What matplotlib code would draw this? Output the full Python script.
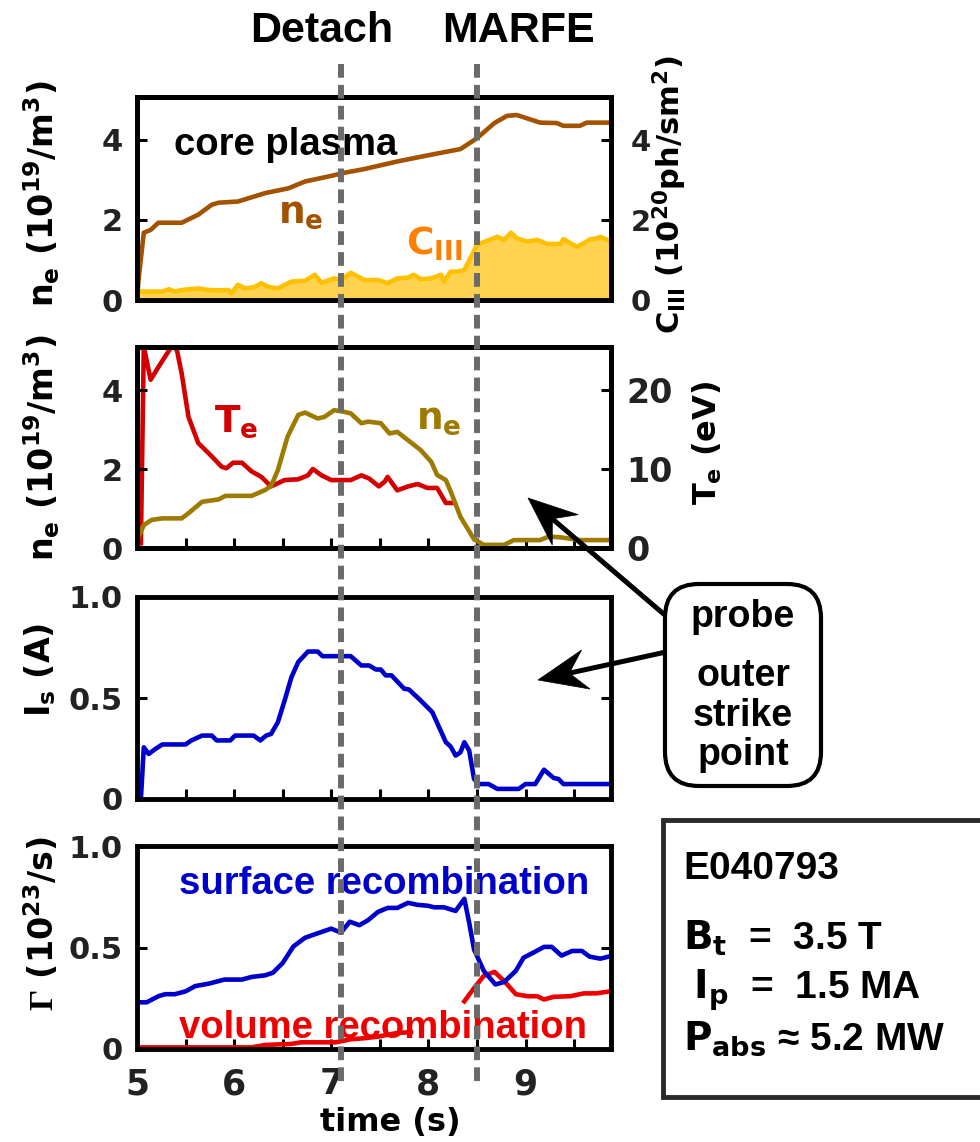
import numpy as np
import matplotlib
matplotlib.use("Agg")
import matplotlib.pyplot as plt
import matplotlib.transforms as mtransforms
from matplotlib.lines import Line2D
from matplotlib.patches import FancyBboxPatch, Rectangle, Polygon

# ---------------------------------------------------------------- data
# core plasma line-averaged density (1e19 m^-3)
t_core = [5.00, 5.02, 5.07, 5.14, 5.22, 5.46, 5.63, 5.77, 5.84, 6.04, 6.32, 6.56,
          6.73, 7.00, 7.14, 7.34, 7.68, 8.03, 8.33, 8.50, 8.68, 8.81, 8.91, 9.15,
          9.32, 9.39, 9.56, 9.63, 9.88]
ne_core = [0.05, 0.60, 1.68, 1.75, 1.93, 1.93, 2.13, 2.38, 2.43, 2.46, 2.67, 2.79,
           2.96, 3.10, 3.18, 3.27, 3.46, 3.63, 3.77, 4.04, 4.42, 4.60, 4.62, 4.43,
           4.42, 4.35, 4.35, 4.43, 4.43]

# C III emission (1e20 ph/s m^2)
t_c3 = [5.00, 5.26, 5.33, 5.39, 5.46, 5.63, 5.74, 5.84, 5.94, 5.97, 6.04, 6.11,
        6.21, 6.28, 6.35, 6.45, 6.59, 6.73, 6.83, 6.90, 7.03, 7.10, 7.20, 7.34,
        7.48, 7.58, 7.68, 7.79, 7.85, 7.92, 8.03, 8.13, 8.16, 8.23, 8.30, 8.37,
        8.44, 8.50, 8.71, 8.78, 8.85, 8.91, 9.02, 9.12, 9.22, 9.36, 9.39, 9.46,
        9.53, 9.60, 9.67, 9.74, 9.77, 9.88]
c3 = [0.21, 0.21, 0.27, 0.21, 0.25, 0.29, 0.25, 0.24, 0.25, 0.17, 0.38, 0.29,
      0.32, 0.42, 0.33, 0.29, 0.46, 0.48, 0.63, 0.43, 0.54, 0.50, 0.68, 0.50,
      0.50, 0.42, 0.54, 0.56, 0.63, 0.52, 0.54, 0.63, 0.46, 0.71, 0.71, 0.75,
      1.08, 1.38, 1.58, 1.50, 1.68, 1.54, 1.46, 1.50, 1.40, 1.40, 1.52, 1.42,
      1.33, 1.42, 1.52, 1.54, 1.58, 1.46]

# divertor probe density (1e19 m^-3)
t_ne_div = [5.00, 5.07, 5.15, 5.26, 5.46, 5.53, 5.67, 5.84, 5.91, 6.18, 6.32, 6.38,
            6.45, 6.55, 6.66, 6.73, 6.86, 6.93, 7.03, 7.13, 7.20, 7.31, 7.38, 7.51,
            7.60, 7.68, 7.79, 7.92, 8.03, 8.09, 8.18, 8.23, 8.33, 8.47, 8.57, 8.78,
            8.88, 9.15, 9.24, 9.36, 9.56, 9.88]
ne_div = [0.20, 0.58, 0.71, 0.75, 0.75, 0.88, 1.17, 1.23, 1.32, 1.32, 1.47, 1.57,
          1.97, 2.82, 3.37, 3.43, 3.28, 3.32, 3.49, 3.45, 3.41, 3.16, 3.20, 3.16,
          2.90, 2.94, 2.73, 2.48, 2.18, 1.85, 1.72, 1.43, 0.79, 0.22, 0.08, 0.08,
          0.20, 0.20, 0.29, 0.27, 0.20, 0.20]

# divertor probe electron temperature (eV)
t_te = [5.04, 5.07, 5.14, 5.22, 5.36, 5.41, 5.46, 5.53, 5.63, 5.77, 5.87, 5.92,
        5.99, 6.08, 6.18, 6.28, 6.38, 6.52, 6.66, 6.76, 6.81, 6.90, 7.00, 7.20,
        7.31, 7.39, 7.49, 7.55, 7.58, 7.68, 7.79, 7.89, 7.99, 8.09, 8.18, 8.25]
te = [0.6, 25.5, 21.3, 22.9, 25.6, 25.1, 22.1, 16.6, 13.3, 11.6, 10.3, 10.1,
      10.8, 10.8, 9.7, 9.0, 7.8, 8.6, 8.7, 9.2, 10.0, 9.2, 8.6, 8.6,
      9.2, 8.8, 7.8, 8.4, 9.0, 7.3, 7.8, 8.1, 7.6, 7.6, 5.7, 5.7]

# ion saturation current at the outer strike point (A)
t_is = [5.04, 5.07, 5.12, 5.19, 5.26, 5.50, 5.56, 5.67, 5.77, 5.82, 5.96, 6.01,
        6.20, 6.27, 6.33, 6.38, 6.45, 6.52, 6.59, 6.66, 6.76, 6.86, 6.91, 7.20,
        7.31, 7.39, 7.46, 7.51, 7.56, 7.62, 7.75, 7.80, 7.92, 8.04, 8.18, 8.23,
        8.28, 8.33, 8.37, 8.42, 8.47, 8.52, 8.62, 8.71, 8.93, 9.00, 9.10, 9.19,
        9.29, 9.34, 9.39, 9.88]
i_sat = [0.00, 0.256, 0.223, 0.248, 0.27, 0.27, 0.29, 0.314, 0.314, 0.29, 0.29, 0.314,
         0.314, 0.29, 0.314, 0.322, 0.38, 0.488, 0.603, 0.678, 0.73, 0.73, 0.707, 0.707,
         0.661, 0.661, 0.641, 0.641, 0.612, 0.612, 0.546, 0.542, 0.488, 0.43, 0.281, 0.259,
         0.215, 0.231, 0.281, 0.24, 0.099, 0.074, 0.074, 0.05, 0.05, 0.074, 0.074, 0.145,
         0.104, 0.099, 0.074, 0.074]

# particle recombination rates (1e23 /s)
t_surf = [5.00, 5.10, 5.22, 5.29, 5.39, 5.50, 5.60, 5.74, 5.90, 6.08, 6.18, 6.32,
          6.40, 6.50, 6.61, 6.73, 6.83, 7.00, 7.10, 7.19, 7.29, 7.38, 7.48, 7.58,
          7.68, 7.79, 7.89, 7.99, 8.06, 8.16, 8.28, 8.37, 8.42, 8.47, 8.57, 8.69,
          8.78, 8.90, 8.98, 9.09, 9.19, 9.27, 9.37, 9.48, 9.58, 9.66, 9.77, 9.88]
surf_rec = [0.23, 0.23, 0.26, 0.27, 0.27, 0.284, 0.31, 0.322, 0.342, 0.342, 0.355, 0.363,
            0.376, 0.424, 0.505, 0.548, 0.565, 0.593, 0.573, 0.627, 0.61, 0.635, 0.675, 0.695,
            0.695, 0.72, 0.71, 0.706, 0.698, 0.698, 0.68, 0.74, 0.622, 0.49, 0.385, 0.318,
            0.33, 0.385, 0.45, 0.477, 0.503, 0.503, 0.46, 0.483, 0.483, 0.455, 0.445, 0.458]

t_vol = [5.00, 6.18, 6.32, 6.59, 6.69, 7.05, 7.20, 7.34, 7.48, 7.68, 7.82, 8.10,
         8.37, 8.47, 8.57, 8.68, 8.78, 8.90, 9.02, 9.12, 9.19, 9.29, 9.46, 9.60,
         9.73, 9.88]
vol_rec = [0.008, 0.008, 0.02, 0.025, 0.033, 0.033, 0.048, 0.053, 0.061, 0.079, 0.083, np.nan,
           0.235, 0.30, 0.36, 0.38, 0.335, 0.27, 0.26, 0.26, 0.244, 0.257, 0.26, 0.274,
           0.274, 0.285]

# event times and labels
event_times = [7.1, 8.5]
event_labels = ["Detach", "MARFE"]

x_major = [5, 6, 7, 8, 9]
x_minor = [5.5, 6.5, 7.5, 8.5, 9.5]

shot_lines = ["E040793", r"$B_t$  =  3.5 T", r" $I_p$  =  1.5 MA", r"$P_{abs}$ ≈ 5.2 MW"]
probe_lines = ["probe", "outer", "strike", "point"]

# ---------------------------------------------------------------- style
plt.rcParams.update({
    "font.family": ["DejaVu Sans"],
    "font.weight": "bold",
    "mathtext.fontset": "custom",
    "mathtext.rm": "DejaVu Sans:bold",
    "mathtext.it": "DejaVu Sans:bold",
    "mathtext.bf": "DejaVu Sans:bold",
    "mathtext.sf": "Liberation Serif",
    "axes.linewidth": 3.5,
})
ANN = ["Liberation Sans", "DejaVu Sans"]
LW = 3.3

W_PX, H_PX, DPI = 980, 1142, 100
fig = plt.figure(figsize=(W_PX / DPI, H_PX / DPI), dpi=DPI)

X0, X1 = 5.0, 9.88
TICK_COLOR = "#222222"


def rect(top, bottom, left=137, right=611):
    return [left / W_PX, 1 - bottom / H_PX, (right - left) / W_PX, (bottom - top) / H_PX]


def fx(px):
    return px / W_PX


def fy(py):
    return 1 - py / H_PX


def base_axes(r, yticks, ylabels, ylim, bottom_labels=False, right_ticks=None):
    ax = fig.add_axes(r)
    ax.set_xlim(X0, X1)
    ax.set_ylim(*ylim)
    ax.set_xticks(x_major)
    ax.set_xticks(x_minor, minor=True)
    ax.set_yticks(yticks, labels=ylabels)
    ax.tick_params(axis="both", which="both", direction="in", length=7, width=2.2,
                   top=False, right=False, colors="black", labelcolor=TICK_COLOR)
    ax.tick_params(axis="y", labelsize=22, pad=10)
    ax.tick_params(axis="x", labelsize=25, pad=13, labelbottom=bottom_labels)
    if right_ticks is not None:
        ax.tick_params(axis="y", right=True, labelright=False)
    for s in ax.spines.values():
        s.set_linewidth(3.5)
    return ax


# panel 1: core density and C III
ax1 = base_axes(rect(97, 300), [0, 2, 4], ["0", "2", "4"], (0, 5.07))
ax1.plot(t_core, ne_core, color="#A35200", lw=LW, zorder=3)
ax1r = ax1.twinx()
ax1r.set_ylim(0, 5.07)
ax1r.fill_between(t_c3, 0, c3, color="#FFD24F", lw=0, zorder=1)
ax1r.plot(t_c3, c3, color="#FFC000", lw=LW, zorder=2)
ax1r.set_yticks([0, 2, 4], labels=["0", "2", "4"])
ax1r.tick_params(axis="y", direction="in", length=7, width=2.2, labelsize=21, pad=14,
                 labelcolor=TICK_COLOR)
ax1.text(5.38, 3.63, "core plasma", family=ANN, fontsize=27.5, color="black")
ax1.text(6.45, 1.92, r"$n_e$", fontsize=27, color="#A35200")
ax1.text(7.77, 1.12, r"$C_{III}$", fontsize=27, color="#FF8000")

# panel 2: divertor probe density and temperature
ax2 = base_axes(rect(347, 548), [0, 2, 4], ["0", "2", "4"], (0, 5.09))
ax2r = ax2.twinx()
ax2r.set_ylim(0, 5.09 * 5)
ax2r.plot(t_te, te, color="#D40000", lw=LW)
ax2r.set_yticks([0, 10, 20], labels=["0", "10", "20"])
ax2r.tick_params(axis="y", direction="in", length=7, width=2.2, labelsize=24, pad=11,
                 labelcolor=TICK_COLOR)
ax2.set_zorder(ax2r.get_zorder() + 1)
ax2.patch.set_visible(False)
ax2.plot(t_ne_div, ne_div, color="#9E7A00", lw=LW)
ax2.text(5.79, 2.94, r"$T_e$", fontsize=27, color="#D40000")
ax2.text(7.87, 3.03, r"$n_e$", fontsize=27, color="#9E7A00")

# panel 3: ion saturation current
ax3 = base_axes(rect(597, 799), [0, 0.5, 1.0], ["0", "0.5", "1.0"], (0, 1.0), right_ticks=True)
ax3.plot(t_is, i_sat, color="#0000CC", lw=LW)

# panel 4: recombination
ax4 = base_axes(rect(846, 1049), [0, 0.5, 1.0], ["0", "0.5", "1.0"], (0, 1.0),
                bottom_labels=True, right_ticks=True)
ax4.plot(t_vol, vol_rec, color="#EE0000", lw=LW)
ax4.plot(t_surf, surf_rec, color="#0000CC", lw=LW)
ax4.text(5.43, 0.762, "surface recombination", family=ANN, fontsize=27.5, color="#0000CC")
ax4.text(5.43, 0.053, "volume recombination", family=ANN, fontsize=27.5, color="#EE0000")

# axis titles
fig.text(fx(42), fy(194), r"$n_e$ (10$^{19}$/m$^3$)", rotation=90, ha="center", va="center", fontsize=24)
fig.text(fx(42), fy(448), r"$n_e$ (10$^{19}$/m$^3$)", rotation=90, ha="center", va="center", fontsize=24)
fig.text(fx(40), fy(670), r"$I_s$ (A)", rotation=90, ha="center", va="center", fontsize=24)
fig.text(fx(42), fy(924), r"$\mathsf{\Gamma}$ (10$^{23}$/s)", rotation=90, ha="center", va="center", fontsize=24)
fig.text(fx(670), fy(195), r"$C_{III}$ (10$^{20}$ph/sm$^2$)", rotation=90, ha="center", va="center", fontsize=22)
fig.text(fx(707), fy(443), r"$T_e$ (eV)", rotation=90, ha="center", va="center", fontsize=23)
fig.text(fx(390), fy(1131), "time (s)", ha="center", va="baseline", fontsize=23)

# event markers spanning all panels
trans = mtransforms.blended_transform_factory(ax4.transData, fig.transFigure)
for tv in event_times:
    fig.add_artist(Line2D([tv, tv], [fy(64), fy(1085)], transform=trans, color="#6B6B6B",
                          lw=4.3, linestyle=(0, (2.3, 1.2)), zorder=20))
fig.text(fx(322), fy(42), event_labels[0], family=ANN, fontsize=31, ha="center", va="baseline")
fig.text(fx(518), fy(42), event_labels[1], family=ANN, fontsize=31, ha="center", va="baseline")

# annotation boxes (coordinates in inches from the bottom-left corner)
inch = fig.dpi_scale_trans


def pin(x, y):
    return (x / DPI, (H_PX - y) / DPI)


x0, y0 = pin(665, 786)
probe_box = FancyBboxPatch((x0, y0), (821 - 665) / DPI, (786 - 584) / DPI,
                           boxstyle="round,pad=0,rounding_size=0.34", transform=inch,
                           facecolor="white", edgecolor="black", lw=3.0, zorder=30)
fig.add_artist(probe_box)
for txt, yb in zip(probe_lines, [627, 686, 726, 765]):
    fig.text(fx(743), fy(yb), txt, family=ANN, fontsize=27, ha="center", va="baseline", zorder=31)

x0, y0 = pin(663, 1097)
shot_box = Rectangle((x0, y0), (1000 - 663) / DPI, (1097 - 820) / DPI, transform=inch,
                     facecolor="white", edgecolor="#2a2a2a", lw=3.5, zorder=30)
fig.add_artist(shot_box)
for txt, yb in zip(shot_lines, [879, 950, 999, 1050]):
    fig.text(fx(683), fy(yb), txt, family=ANN, fontsize=28, ha="left", va="baseline", zorder=31)


def stealth_arrow(tail, tip, head_len=49, head_w=40, notch=17, shaft=5):
    tx, ty = pin(*tail)
    px_, py_ = pin(*tip)
    d = np.array([px_ - tx, py_ - ty])
    u = d / np.hypot(*d)
    n = np.array([-u[1], u[0]])
    tip_v = np.array([px_, py_])
    back = tip_v - u * head_len / DPI
    notch_pt = tip_v - u * (head_len - notch) / DPI
    poly = [tip_v, back + n * head_w / 2 / DPI, notch_pt, back - n * head_w / 2 / DPI]
    fig.add_artist(Line2D([tx, notch_pt[0]], [ty, notch_pt[1]], transform=inch,
                          color="black", lw=shaft * 0.72, solid_capstyle="butt", zorder=29))
    fig.add_artist(Polygon(poly, closed=True, transform=inch, facecolor="black",
                           edgecolor="black", lw=0.5, zorder=29))


stealth_arrow((666, 616), (528, 498))
stealth_arrow((666, 652), (538, 680))

fig.savefig("out.png", dpi=DPI)
